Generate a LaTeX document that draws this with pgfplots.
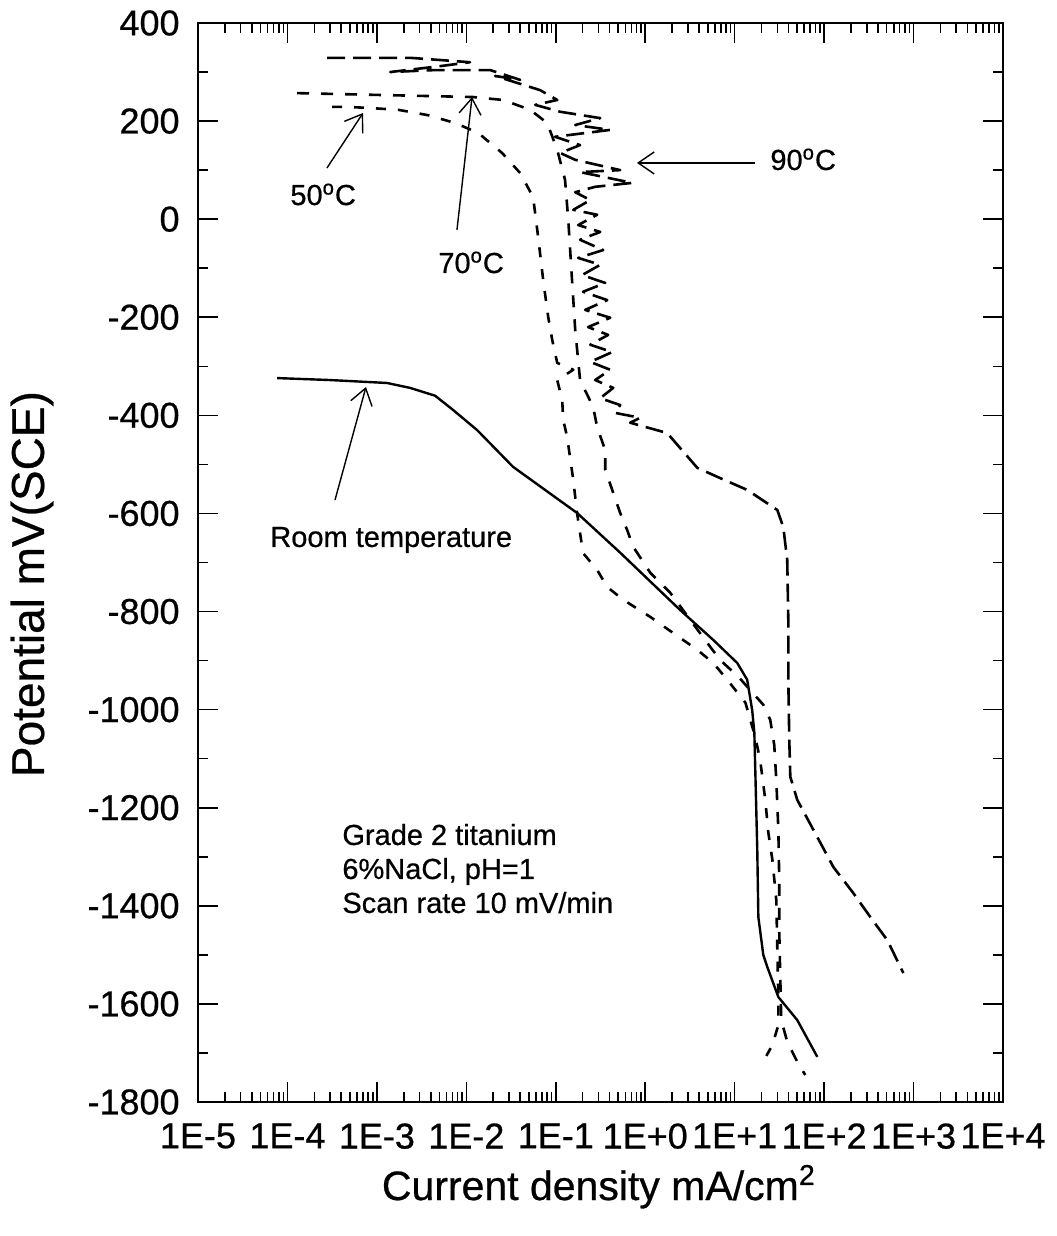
\documentclass[border=0pt]{standalone}
\usepackage{pgfplots}
\pgfplotsset{compat=1.18}
\usepackage{fontspec}
\setmainfont{Liberation Sans}
\newfontfamily\heavy{Liberation Sans}[FakeBold=0.6]
\usetikzlibrary{arrows.meta}

\begin{document}
\begin{tikzpicture}
\begin{axis}[
  scale only axis, width=402.5pt, height=539.5pt,
  xmode=log, xmin=1e-5, xmax=1e4, ymin=-1800, ymax=400,
  xtick={1e-5,1e-4,1e-3,1e-2,1e-1,1,10,100,1000,10000},
  xticklabels={1E-5,1E-4,1E-3,1E-2,1E-1,1E+0,1E+1,1E+2,1E+3,1E+4},
  minor xtick={2e-5,3e-5,4e-5,5e-5,6e-5,7e-5,8e-5,9e-5,
    2e-4,3e-4,4e-4,5e-4,6e-4,7e-4,8e-4,9e-4,
    2e-3,3e-3,4e-3,5e-3,6e-3,7e-3,8e-3,9e-3,
    0.02,0.03,0.04,0.05,0.06,0.07,0.08,0.09,
    0.2,0.3,0.4,0.5,0.6,0.7,0.8,0.9,
    2,3,4,5,6,7,8,9,
    20,30,40,50,60,70,80,90,
    200,300,400,500,600,700,800,900,
    2000,3000,4000,5000,6000,7000,8000,9000},
  ytick={-1800,-1600,-1400,-1200,-1000,-800,-600,-400,-200,0,200,400},
  yticklabels={-1800,-1600,-1400,-1200,-1000,-800,-600,-400,-200,0,200,400},
  minor ytick={-1700,-1500,-1300,-1100,-900,-700,-500,-300,-100,100,300},
  tick align=inside,
  major tick length=10pt, minor tick length=5pt,
  every tick/.style={black, line width=0.8pt},
  axis line style={line width=1.2pt},
  tick label style={font=\heavy\fontsize{18}{18}\selectfont},
  xticklabel style={inner sep=0pt, anchor=north, yshift=-10.5pt},
  yticklabel style={inner sep=0pt, anchor=east, xshift=-9pt},
  clip mode=individual,
  every axis plot/.append style={no markers, line join=round, black},
]
% Room temperature
\addplot[solid, line width=1.2pt] coordinates {
(7.66e-5,-324) (3.0e-4,-328) (1.30e-3,-334) (2.35e-3,-344) (4.48e-3,-360)
(7.11e-3,-389) (0.0132,-430) (0.0333,-505) (0.173,-599) (0.525,-680)
(2.46,-797) (5.77,-858) (10.7,-905) (13.8,-939) (15.7,-1001) (16.6,-1047)
(17.9,-1286) (18.4,-1423) (20.9,-1500) (23.2,-1525) (30.8,-1586)
(50.1,-1633) (84.0,-1708)};
% 50 C
\addplot[line width=1.3pt, dash pattern=on 5pt off 6pt] coordinates {
(3.15e-4,229) (4.40e-4,229) (7.76e-4,227) (1.73e-3,223) (3.74e-3,212)
(7.50e-3,196) (0.01355,176) (0.0251,135) (0.0400,94) (0.0558,45)
(0.0635,-36) (0.0723,-124) (0.0822,-199) (0.0912,-246) (0.1038,-293)
(0.157,-307) (0.1038,-328) (0.118,-369) (0.121,-409) (0.134,-444)
(0.157,-532) (0.173,-599) (0.202,-681) (0.290,-715) (0.376,-750)
(0.568,-776) (1.14,-811) (2.06,-844) (3.82,-878) (5.77,-905) (8.26,-939)
(13.2,-986) (17.0,-1056) (19.3,-1103) (22.0,-1184) (23.8,-1251)
(26.4,-1306) (29.2,-1388) (30.0,-1490) (30.8,-1592) (30.8,-1643)
(26.4,-1684) (22.6,-1706)};
% 70 C
\addplot[line width=1.3pt, dash pattern=on 6pt off 6pt] coordinates {
(1.28e-4,257) (0.0119,249) (0.0258,243) (0.0518,223) (0.0802,196)
(0.104,141) (0.127,80) (0.138,-2) (0.152,-124) (0.165,-226) (0.187,-328)
(0.262,-383) (0.290,-424) (0.357,-471) (0.357,-511) (0.439,-558)
(0.525,-599) (0.629,-634) (0.734,-668) (1.14,-721) (1.91,-762)
(3.19,-817) (4.94,-864) (6.90,-899) (11.0,-933) (14.9,-960) (20.9,-990)
(25.0,-1021) (27.7,-1072) (29.2,-1143) (30.8,-1245) (31.5,-1347)
(31.5,-1449) (32.4,-1551) (33.2,-1633) (38.7,-1677) (50.1,-1718)
(61.6,-1745)};
% 90 C
\addplot[line width=1.3pt, dash pattern=on 9pt off 4pt] coordinates {
(2.77e-4,329) (2.35e-3,329) (0.0110,320) (5.09e-3,312) (1.41e-3,300)
(4.48e-3,304) (0.0185,304) (0.0400,284) (0.0210,292) (0.0670,263)
(0.104,243) (0.0589,233) (0.112,219) (0.314,206) (0.165,192) (0.406,182)
(0.0984,168) (0.187,151) (0.112,135) (0.165,121) (0.525,100) (0.187,96)
(0.716,74) (0.276,66) (0.165,55) (0.243,39) (0.157,19) (0.290,9)
(0.178,-12) (0.314,-26) (0.187,-42) (0.339,-63) (0.178,-79) (0.314,-93)
(0.197,-114) (0.357,-130) (0.202,-148) (0.376,-165) (0.213,-185)
(0.406,-201) (0.230,-220) (0.385,-236) (0.243,-256) (0.428,-271)
(0.243,-291) (0.406,-307) (0.276,-328) (0.439,-344) (0.314,-365)
(0.525,-379) (0.461,-395) (0.879,-405) (0.679,-415) (1.76,-436)
(3.82,-507) (6.90,-528) (13.8,-552) (30.0,-593) (35.0,-628) (38.7,-695)
(39.8,-817) (39.8,-939) (40.8,-1062) (41.9,-1137) (50.1,-1184)
(84.0,-1260) (127,-1321) (212,-1374) (329,-1423) (509,-1470) (769,-1537)};

% annotations
\tikzset{ann/.style={font=\heavy\fontsize{14.5}{17}\selectfont, inner sep=0pt, anchor=base west},
         arr/.style={line width=0.7pt, -{Straight Barb[length=8pt,width=11pt]}}}
\node[ann] at (rel axis cs:0.1143,0.8313) {50\textsuperscript{o}C};
\draw[arr] (rel axis cs:0.1602,0.8656) -- (rel axis cs:0.2050,0.9166);
\node[ann] at (rel axis cs:0.2981,0.7683) {70\textsuperscript{o}C};
\draw[arr] (rel axis cs:0.3217,0.8082) -- (rel axis cs:0.3404,0.9314);
\node[ann] at (rel axis cs:0.7106,0.8638) {90\textsuperscript{o}C};
\draw[arr] (rel axis cs:0.6919,0.8703) -- (rel axis cs:0.5453,0.8703);
\node[ann] at (rel axis cs:0.0894,0.5144) {Room temperature};
\draw[arr] (rel axis cs:0.1702,0.5579) -- (rel axis cs:0.2087,0.6627);
\node[ann] at (rel axis cs:0.1789,0.2382) {Grade 2 titanium};
\node[ann] at (rel axis cs:0.1789,0.2067) {6\%NaCl, pH=1};
\node[ann] at (rel axis cs:0.1789,0.1752) {Scan rate 10 mV/min};

% axis labels
\node[rotate=90, font=\heavy\fontsize{23}{23}\selectfont, inner sep=0pt] at ([xshift=-83pt]rel axis cs:0,0.48) {Potential mV(SCE)};
\node[anchor=base, font=\heavy\fontsize{20.5}{20.5}\selectfont, inner sep=0pt] at ([yshift=-49pt]rel axis cs:0.498,0) {Current density mA/cm\textsuperscript{2}};

\coordinate (LL) at (rel axis cs:0,0);
\coordinate (UR) at (rel axis cs:1,1);
\end{axis}
\pgfresetboundingbox
\path[use as bounding box] ([shift={(-99pt,-67pt)}]LL) rectangle ([shift={(27pt,11.5pt)}]UR);
\end{tikzpicture}
\end{document}
